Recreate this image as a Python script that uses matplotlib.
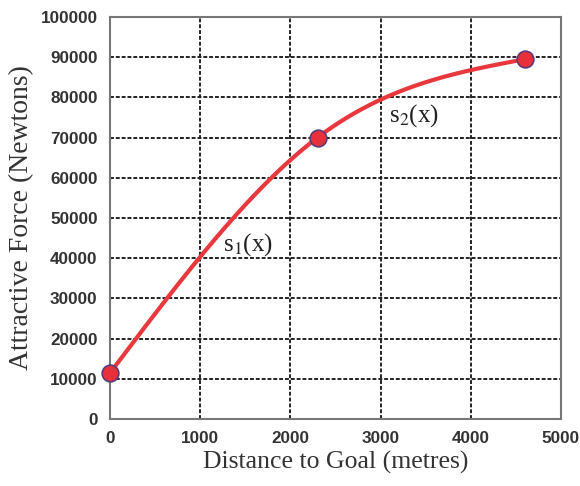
import numpy as np
import matplotlib
matplotlib.use("Agg")
import matplotlib.pyplot as plt

plt.rcParams['mathtext.fontset'] = 'stix'

# knots of the two spline pieces s1, s2
knot_x = [0, 2300, 4600]
knot_y = [11500, 70000, 89500]
x_ticks = [0, 1000, 2000, 3000, 4000, 5000]
y_ticks = [0, 10000, 20000, 30000, 40000, 50000, 60000, 70000, 80000, 90000, 100000]
labels = ['s$_1$(x)', 's$_2$(x)']
label_pos = [(1530, 43500), (3370, 75500)]


def natural_spline(xk, yk, xs):
    xk = np.asarray(xk, float)
    yk = np.asarray(yk, float)
    n = len(xk)
    h = np.diff(xk)
    A = np.zeros((n, n))
    b = np.zeros(n)
    A[0, 0] = A[-1, -1] = 1
    for i in range(1, n - 1):
        A[i, i - 1] = h[i - 1]
        A[i, i] = 2 * (h[i - 1] + h[i])
        A[i, i + 1] = h[i]
        b[i] = 6 * ((yk[i + 1] - yk[i]) / h[i] - (yk[i] - yk[i - 1]) / h[i - 1])
    M = np.linalg.solve(A, b)
    out = np.empty_like(xs)
    for j, x in enumerate(xs):
        i = min(np.searchsorted(xk, x, side='right') - 1, n - 2)
        a, c = xk[i + 1] - x, x - xk[i]
        out[j] = (M[i] * a**3 + M[i + 1] * c**3) / (6 * h[i]) \
            + (yk[i] - M[i] * h[i]**2 / 6) * a / h[i] \
            + (yk[i + 1] - M[i + 1] * h[i]**2 / 6) * c / h[i]
    return out


fig = plt.figure(figsize=(5.8, 4.86), dpi=100)
ax = fig.add_axes([0.19, 0.138, 0.777, 0.827])

xs = np.linspace(knot_x[0], knot_x[-1], 300)
ax.plot(xs, natural_spline(knot_x, knot_y, xs), color='#e8383d', lw=3, zorder=3)
ax.plot(knot_x, knot_y, 'o', ms=12, mfc='#e8303a', mec='#5a3a7a', mew=1.2,
        zorder=4, clip_on=False)

for txt, (tx, ty) in zip(labels, label_pos):
    ax.text(tx, ty, txt, fontsize=18, family='Liberation Serif', color='#222222',
            ha='center', va='center')

ax.set_xlim(0, 5000)
ax.set_ylim(0, 100000)
ax.set_xticks(x_ticks)
ax.set_yticks(y_ticks)
ax.tick_params(length=0, labelsize=12.3, labelcolor='#333333', pad=9)
for lab in ax.get_xticklabels() + ax.get_yticklabels():
    lab.set_fontweight('bold')
    lab.set_family('Liberation Sans')
ax.grid(True, color='#222222', linestyle=(0, (2, 1)), lw=1.4)
for s in ax.spines.values():
    s.set_color('#777777')
    s.set_linewidth(1.5)

ax.set_xlabel('Distance to Goal (metres)', family='Liberation Serif', fontsize=18.5,
              color='#333333', labelpad=3)
ax.set_ylabel('Attractive Force (Newtons)', family='Liberation Serif', fontsize=20,
              color='#333333', labelpad=5)

fig.savefig('out.png', dpi=100)
